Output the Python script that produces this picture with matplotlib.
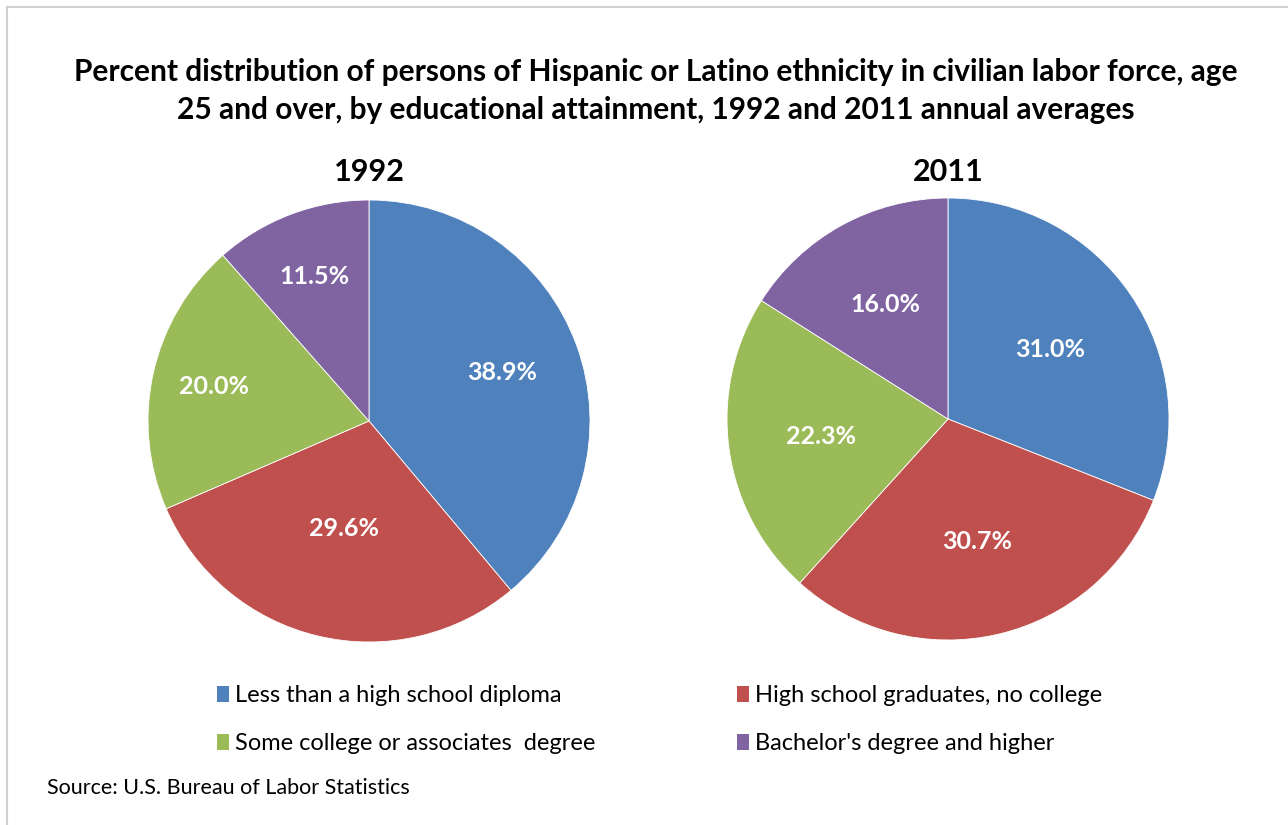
import numpy as np
import matplotlib.pyplot as plt
from matplotlib.lines import Line2D
from matplotlib.patches import Patch

# data
categories = ["Less than a high school diploma",
              "High school graduates, no college",
              "Some college or associates  degree",
              "Bachelor's degree and higher"]
years = ["1992", "2011"]
share_1992 = [38.9, 29.6, 20.0, 11.5]
share_2011 = [31.0, 30.7, 22.3, 16.0]

colors = ["#4F81BD", "#C0504D", "#9BBB59", "#8064A2"]

plt.rcParams['font.family'] = ['Lato', 'DejaVu Sans']

W, H = 1288, 825
fig = plt.figure(figsize=(W / 100, H / 100), dpi=100)
fig.patch.set_facecolor("white")

# light grey frame on top and left (cropped screenshot)
fig.add_artist(Line2D([7 / W, 7 / W], [0, 1 - 7 / H], transform=fig.transFigure,
                      color="#D0D0D0", lw=1.5))
fig.add_artist(Line2D([7 / W, 1], [1 - 7 / H, 1 - 7 / H], transform=fig.transFigure,
                      color="#D0D0D0", lw=1.5))

fig.text(656 / W, 1 - 72 / H,
         "Percent distribution of persons of Hispanic or Latino ethnicity in civilian labor force, age",
         ha="center", va="center", fontsize=21.5, fontweight="bold", color="black")
fig.text(656 / W, 1 - 110 / H,
         "25 and over, by educational attainment, 1992 and 2011 annual averages",
         ha="center", va="center", fontsize=21.5, fontweight="bold", color="black")


def draw_pie(cx, cy, r, values, title, label_dist):
    ax = fig.add_axes([(cx - r) / W, 1 - (cy + r) / H, 2 * r / W, 2 * r / H])
    wedges, texts, autotexts = ax.pie(values, colors=colors, startangle=90,
                                      counterclock=False, autopct="%.1f%%",
                                      wedgeprops=dict(edgecolor="white", linewidth=0.6),
                                      textprops=dict(color="white", fontsize=18,
                                                     fontweight="bold"))
    # nudge labels radially like Excel's best fit placement
    for w, t, d in zip(wedges, autotexts, label_dist):
        ang = np.deg2rad((w.theta1 + w.theta2) / 2)
        t.set_position((d * np.cos(ang), d * np.sin(ang)))
    ax.set_xlim(-1, 1)
    ax.set_ylim(-1, 1)
    ax.set_aspect("equal")
    ax.axis("off")
    fig.text(cx / W, 1 - 172 / H, title, ha="center", va="center",
             fontsize=22, fontweight="bold")
    return wedges


wedges = draw_pie(369, 421, 221, share_1992, years[0], [0.64, 0.50, 0.72, 0.70])
draw_pie(948, 419, 221, share_2011, years[1], [0.56, 0.57, 0.58, 0.59])

# legend: two rows, two columns (fill order is column-wise)
order = [0, 2, 1, 3]
handles = [Patch(facecolor=colors[i], edgecolor="none") for i in order]
labels = [categories[i] for i in order]
fig.legend(handles, labels, ncol=2, loc="upper left",
           bbox_to_anchor=(196 / W, 1 - 664 / H), frameon=False,
           fontsize=17, handlelength=0.5, handleheight=0.7, handletextpad=0.25,
           labelspacing=1.15, columnspacing=6.0)

fig.text(47 / W, 1 - 788 / H, "Source: U.S. Bureau of Labor Statistics",
         ha="left", va="center", fontsize=15.5)

fig.savefig("out.png", dpi=100)
